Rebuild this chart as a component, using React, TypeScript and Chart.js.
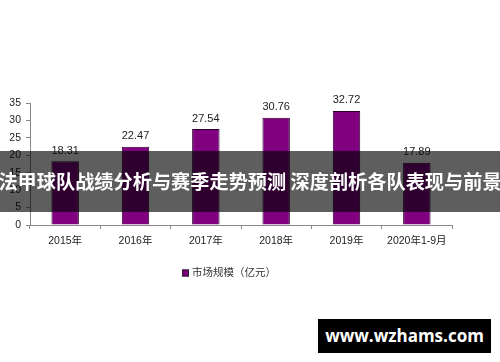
import React, { useEffect, useRef } from "react";
import { Chart, registerables } from "chart.js";

Chart.register(...registerables);

const categories = ["2015年", "2016年", "2017年", "2018年", "2019年", "2020年1-9月"];
const marketSize = [18.31, 22.47, 27.54, 30.76, 32.72, 17.89];
const seriesLabel = "市场规模（亿元）";
const bannerText = "法甲球队战绩分析与赛季走势预测 深度剖析各队表现与前景";
const watermarkText = "www.wzhams.com";

const FONT = "'Liberation Sans', Arial, 'Noto Sans CJK SC', sans-serif";

const extrasPlugin = {
  id: "extras",
  afterDatasetsDraw(chart: any) {
    const ctx = chart.ctx;
    const meta = chart.getDatasetMeta(0);
    ctx.save();
    ctx.font = `11px ${FONT}`;
    ctx.fillStyle = "#222";
    ctx.textAlign = "center";
    ctx.textBaseline = "bottom";
    meta.data.forEach((bar: any, i: number) => {
      const v = chart.data.datasets[0].data[i] as number;
      ctx.fillText(v.toFixed(2), bar.x, bar.y - 5);
    });
    // legend
    const ds = chart.data.datasets[0];
    const lx = 182;
    const ly = 273;
    ctx.fillStyle = ds.backgroundColor;
    ctx.fillRect(lx, ly - 3.5, 7, 7);
    ctx.strokeStyle = "#222";
    ctx.lineWidth = 1;
    ctx.strokeRect(lx + 0.5, ly - 3, 6, 6);
    ctx.fillStyle = "#333";
    ctx.font = `10.5px ${FONT}`;
    ctx.textAlign = "left";
    ctx.textBaseline = "middle";
    ctx.fillText(ds.label, lx + 10, ly);
    ctx.restore();
  },
};

export default function App() {
  const ref = useRef<HTMLCanvasElement | null>(null);
  useEffect(() => {
    if (!ref.current) return;
    const chart = new Chart(ref.current, {
      type: "bar",
      data: {
        labels: categories,
        datasets: [
          {
            label: seriesLabel,
            data: marketSize,
            backgroundColor: "#800080",
            borderColor: "#2a002a",
            borderWidth: 1,
            barPercentage: 0.39,
            categoryPercentage: 1,
          },
        ],
      },
      options: {
        animation: false,
        responsive: false,
        maintainAspectRatio: false,
        layout: { padding: { top: 103, right: 48, bottom: 0, left: 0 } },
        plugins: {
          legend: { display: false },
          tooltip: { enabled: false },
        },
        scales: {
          x: {
            grid: {
              offset: true,
              drawOnChartArea: false,
              drawTicks: true,
              tickLength: 4,
              color: "#888",
            },
            border: { color: "#888" },
            ticks: {
              autoSkip: false,
              maxRotation: 0,
              color: "#222",
              font: { size: 10.5, family: FONT },
              padding: 6,
            },
            afterFit(scale: any) {
              scale.height = 137;
            },
          },
          y: {
            min: 0,
            max: 35,
            ticks: {
              stepSize: 5,
              color: "#222",
              font: { size: 10.5, family: FONT },
              padding: 5,
            },
            grid: {
              drawOnChartArea: false,
              drawTicks: true,
              tickLength: 4,
              color: "#888",
            },
            border: { color: "#888" },
            afterFit(scale: any) {
              scale.width = 30;
            },
          },
        },
      },
      plugins: [extrasPlugin],
    });
    return () => chart.destroy();
  }, []);

  return (
    <div
      style={{
        position: "fixed",
        left: 0,
        top: 0,
        width: 500,
        height: 362,
        overflow: "hidden",
        background: "#fff",
      }}
    >
      <canvas ref={ref} width={500} height={362} style={{ display: "block" }} />
      <div
        style={{
          position: "absolute",
          left: 0,
          top: 151,
          width: 500,
          height: 61,
          background: "rgba(0,0,0,0.63)",
          color: "#fff",
          fontFamily: "'Noto Sans CJK SC', sans-serif",
          fontWeight: 700,
          fontSize: 19.2,
          lineHeight: "61px",
          whiteSpace: "nowrap",
          display: "flex",
          justifyContent: "center",
          overflow: "hidden",
        }}
      >
        <span style={{ flexShrink: 0 }}>{bannerText}</span>
      </div>
      <div
        style={{
          position: "absolute",
          left: 318,
          top: 319,
          width: 173,
          height: 34,
          background: "#000",
          color: "#fff",
          fontFamily: "'Open Sans', 'DejaVu Sans', sans-serif",
          fontWeight: 700,
          fontSize: 17,
          lineHeight: "34px",
          textAlign: "center",
          whiteSpace: "nowrap",
        }}
      >
        {watermarkText}
      </div>
    </div>
  );
}
